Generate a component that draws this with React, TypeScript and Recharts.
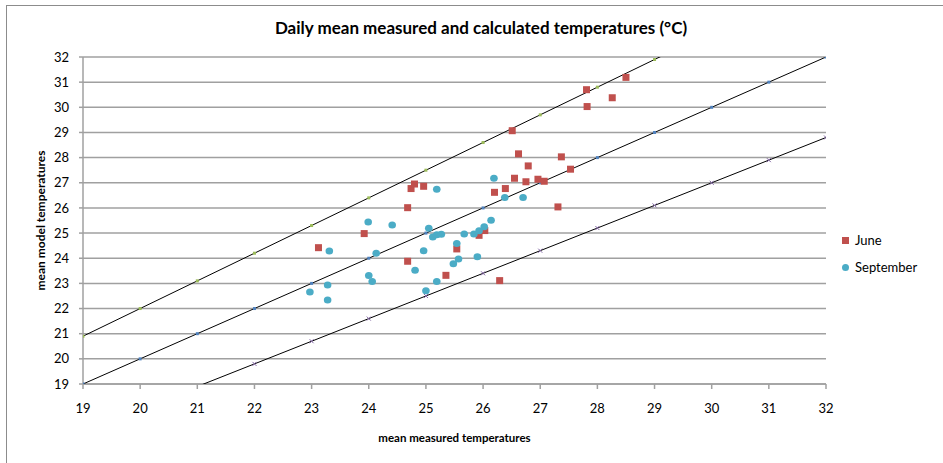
import React from 'react';
import { ComposedChart, Scatter, XAxis, YAxis, CartesianGrid, Label } from 'recharts';

const axisTicks = [19, 20, 21, 22, 23, 24, 25, 26, 27, 28, 29, 30, 31, 32];

const juneX = [23.12, 23.92, 24.68, 24.68, 24.74, 24.8, 24.96, 25.35, 25.54, 25.93, 26.03, 26.2, 26.29, 26.39, 26.51, 26.55, 26.62, 26.75, 26.79, 26.96, 27.07, 27.31, 27.37, 27.53, 27.81, 27.82, 28.26, 28.5];
const juneY = [24.42, 24.98, 23.88, 26.01, 26.77, 26.95, 26.86, 23.32, 24.37, 24.91, 25.1, 26.62, 23.11, 26.77, 29.07, 27.18, 28.15, 27.04, 27.67, 27.14, 27.06, 26.04, 28.03, 27.54, 30.7, 30.03, 30.38, 31.19];

const sepX = [22.97, 23.28, 23.28, 23.31, 23.99, 24.0, 24.06, 24.13, 24.41, 24.81, 24.96, 25.0, 25.05, 25.12, 25.19, 25.19, 25.19, 25.27, 25.48, 25.54, 25.57, 25.67, 25.84, 25.9, 25.93, 26.02, 26.14, 26.19, 26.38, 26.7];
const sepY = [22.66, 22.94, 22.34, 24.29, 25.44, 23.31, 23.07, 24.2, 25.32, 23.52, 24.3, 22.71, 25.19, 24.84, 24.93, 26.74, 23.07, 24.95, 23.78, 24.59, 23.97, 24.96, 24.96, 24.06, 25.09, 25.25, 25.51, 27.18, 26.41, 26.41];

const lineX = [19, 20, 21, 22, 23, 24, 25, 26, 27, 28, 29, 30, 31, 32];
const upperY = [20.9, 22.0, 23.1, 24.2, 25.3, 26.4, 27.5, 28.6, 29.7, 30.8, 31.9, 33.0, 34.1, 35.2];
const middleY = [19, 20, 21, 22, 23, 24, 25, 26, 27, 28, 29, 30, 31, 32];
const lowerY = [17.1, 18.0, 18.9, 19.8, 20.7, 21.6, 22.5, 23.4, 24.3, 25.2, 26.1, 27.0, 27.9, 28.8];

const seriesNames = ['June', 'September'];
const seriesColors = ['#c0504d', '#4bacc6'];

const zip = (xs: number[], ys: number[]) => xs.map((x, i) => ({ x, y: ys[i] }));
const juneData = zip(juneX, juneY);
const sepData = zip(sepX, sepY);
const upperData = zip(lineX, upperY);
const middleData = zip(lineX, middleY);
const lowerData = zip(lineX, lowerY);

const FONT = 'Lato, "Noto Sans", sans-serif';

const Square = (p: any) => (
  <rect x={p.cx - 3.5} y={p.cy - 3.5} width={7} height={7} fill={p.fill} />
);
const Dot = (p: any) => <ellipse cx={p.cx} cy={p.cy} rx={3.8} ry={3.5} fill={p.fill} />;
const TinyDiamond = (color: string) => (p: any) => (
  <rect x={p.cx - 1.5} y={p.cy - 1.5} width={3} height={3} fill={color} />
);
const TinyX = (p: any) => (
  <g stroke="#8064a2" strokeWidth={1}>
    <line x1={p.cx - 2} y1={p.cy - 2} x2={p.cx + 2} y2={p.cy + 2} />
    <line x1={p.cx - 2} y1={p.cy + 2} x2={p.cx + 2} y2={p.cy - 2} />
  </g>
);

const YTitle = (props: any) => {
  const vb = props.viewBox;
  return (
    <text
      x={vb.x + 40}
      y={vb.y + vb.height / 2}
      transform={`rotate(-90 ${vb.x + 40} ${vb.y + vb.height / 2})`}
      textAnchor="middle"
      dominantBaseline="central"
      fontFamily={FONT}
      fontWeight="bold"
      fontSize={12}
      fill="#000"
    >
      mean model temperatures
    </text>
  );
};
const XTitle = (props: any) => {
  const vb = props.viewBox;
  return (
    <text
      x={vb.x + vb.width / 2}
      y={vb.y + 53}
      textAnchor="middle"
      dominantBaseline="central"
      fontFamily={FONT}
      fontWeight="bold"
      fontSize={11.5}
      fill="#000"
    >
      mean measured temperatures
    </text>
  );
};

export default function App() {
  return (
    <div style={{ position: 'absolute', left: 0, top: 0, width: 943, height: 463, overflow: 'hidden', background: '#fff' }}>
      <div style={{ position: 'absolute', left: 6, top: 5, width: 1000, height: 1000, border: '1px solid #8c8c8c', boxSizing: 'border-box' }} />
      <div
        style={{
          position: 'absolute', left: 0, top: 17, width: 962, textAlign: 'center',
          fontFamily: FONT, fontWeight: 'bold', fontSize: 17, color: '#000', lineHeight: '22px',
        }}
      >
        Daily mean measured and calculated temperatures (°C)
      </div>
      <div style={{ position: 'absolute', left: 0, top: 0 }}>
        <ComposedChart width={943} height={463} margin={{ top: 57, right: 117, left: 0, bottom: 0 }}>
          <CartesianGrid vertical={false} stroke="#a0a0a0" strokeWidth={1.5} />
          <XAxis
            type="number"
            dataKey="x"
            domain={[19, 32]}
            ticks={axisTicks}
            allowDataOverflow
            height={79}
            stroke="#a0a0a0"
            strokeWidth={1.5}
            tickSize={5}
            tickMargin={15}
            tick={{ fill: '#000', fontSize: 13, fontFamily: FONT }}
          >
            <Label content={XTitle} />
          </XAxis>
          <YAxis
            type="number"
            dataKey="y"
            domain={[19, 32]}
            ticks={axisTicks}
            allowDataOverflow
            width={83}
            stroke="#a0a0a0"
            strokeWidth={1.5}
            tickSize={4}
            tickMargin={10}
            tick={{ fill: '#000', fontSize: 13, fontFamily: FONT }}
          >
            <Label content={YTitle} />
          </YAxis>
          <Scatter data={upperData} line={{ stroke: '#000', strokeWidth: 1 }} shape={TinyDiamond('#9bbb59')} isAnimationActive={false} legendType="none" />
          <Scatter data={middleData} line={{ stroke: '#000', strokeWidth: 1 }} shape={TinyDiamond('#4f81bd')} isAnimationActive={false} legendType="none" />
          <Scatter data={lowerData} line={{ stroke: '#000', strokeWidth: 1 }} shape={TinyX} isAnimationActive={false} legendType="none" />
          <Scatter name={seriesNames[0]} data={juneData} fill={seriesColors[0]} shape={Square} isAnimationActive={false} />
          <Scatter name={seriesNames[1]} data={sepData} fill={seriesColors[1]} shape={Dot} isAnimationActive={false} />
        </ComposedChart>
      </div>
      <div style={{ position: 'absolute', left: 842, top: 231, fontFamily: FONT, fontSize: 13, color: '#000' }}>
        {seriesNames.map((n, i) => (
          <div key={n} style={{ display: 'flex', alignItems: 'center', height: 18, marginBottom: 9 }}>
            <span
              style={{
                display: 'inline-block', width: 7, height: 7, marginRight: 6, background: seriesColors[i],
                borderRadius: i === 1 ? '50%' : 0,
              }}
            />
            {n}
          </div>
        ))}
      </div>
    </div>
  );
}
